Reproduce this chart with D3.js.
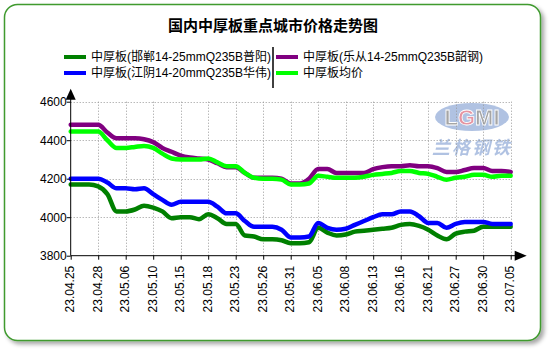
<!DOCTYPE html>
<html>
<head>
<meta charset="utf-8">
<script src="https://cdn.jsdelivr.net/npm/d3@7"></script>
<style>
  html, body { margin: 0; padding: 0; background: #fff; }
  svg { display: block; }
  .cn { font-family: "Noto Sans CJK SC", "Liberation Sans", sans-serif; }
  .mix { font-family: "Liberation Sans", "Noto Sans CJK SC", sans-serif; }
  .num { font-family: "Liberation Sans", Arial, sans-serif; }
</style>
</head>
<body>
<svg id="chart" width="550" height="350"></svg>
<script>
// Trading-day index runs 0..48; a date label every third day.
const dateLabels = ["23.04.25","23.04.28","23.05.06","23.05.10","23.05.15","23.05.18","23.05.23",
  "23.05.26","23.05.31","23.06.05","23.06.08","23.06.13","23.06.16","23.06.21","23.06.27",
  "23.06.30","23.07.05"];
const yTicks = [3800, 4000, 4200, 4400, 4600];

const seriesNames = ["中厚板(邯郸14-25mmQ235B普阳)", "中厚板(乐从14-25mmQ235B韶钢)",
  "中厚板(江阴14-20mmQ235B华伟)", "中厚板均价"];
const seriesColors = ["#008000", "#800080", "#0000ff", "#00ff00"];

// 邯郸 普阳
const handan = [4170,4170,4170,4160,4120,4030,4030,4040,4060,4050,4030,3995,4000,4000,3990,4015,
  3995,3965,3965,3905,3900,3885,3885,3880,3865,3865,3870,3945,3920,3905,3910,3925,3930,3935,3940,
  3945,3960,3965,3955,3935,3905,3885,3915,3925,3930,3950,3950,3950,3950];
// 乐从 韶钢
const lecong = [4480,4480,4480,4480,4440,4410,4410,4410,4405,4390,4360,4340,4320,4310,4305,4300,
  4280,4260,4260,4230,4205,4205,4205,4200,4175,4175,4200,4250,4250,4230,4230,4230,4230,4250,4260,
  4265,4265,4270,4265,4265,4255,4235,4235,4245,4255,4255,4240,4240,4235];
// 江阴 华伟
const jiangyin = [4200,4200,4200,4200,4180,4150,4150,4145,4150,4120,4090,4065,4080,4080,4080,4080,
  4055,4020,4020,3980,3950,3950,3950,3935,3895,3895,3900,3970,3945,3935,3940,3960,3980,4000,4015,
  4015,4030,4030,4005,3970,3970,3945,3965,3975,3975,3975,3965,3965,3965];
// 均价
const average = [4445,4445,4445,4445,4400,4360,4360,4365,4370,4360,4330,4305,4300,4300,4300,4305,
  4285,4265,4265,4230,4205,4200,4200,4195,4170,4170,4175,4215,4210,4205,4205,4205,4210,4220,4225,
  4230,4240,4240,4230,4225,4210,4195,4205,4210,4220,4220,4210,4215,4215];

const seriesValues = [handan, lecong, jiangyin, average];

const svg = d3.select("#chart");

// drop shadow for the frame
const defs = svg.append("defs");
const f = defs.append("filter").attr("id", "shadow").attr("x", "-5%").attr("y", "-5%")
  .attr("width", "115%").attr("height", "115%");
f.append("feDropShadow").attr("dx", 3).attr("dy", 3).attr("stdDeviation", 2)
  .attr("flood-color", "#000").attr("flood-opacity", 0.35);

svg.append("rect")
  .attr("x", 4.5).attr("y", 4.5).attr("width", 536).attr("height", 336)
  .attr("rx", 13).attr("ry", 13)
  .attr("fill", "#fff").attr("stroke", "#3f9a2f").attr("stroke-width", 1.5)
  .attr("filter", "url(#shadow)");

// title
svg.append("text").attr("class", "cn")
  .attr("x", 273).attr("y", 26).attr("dy", "0.35em")
  .attr("text-anchor", "middle").attr("font-size", 15).attr("font-weight", "bold")
  .text("国内中厚板重点城市价格走势图");

// legend (two columns, split by a vertical rule)
const legendPos = [[64, 57], [276, 57], [64, 73], [276, 73]];
const legend = svg.append("g");
seriesNames.forEach((name, k) => {
  const [lx, ly] = legendPos[k];
  legend.append("line").attr("x1", lx).attr("x2", lx + 22).attr("y1", ly).attr("y2", ly)
    .attr("stroke", seriesColors[k]).attr("stroke-width", 4);
  legend.append("text").attr("class", "mix").attr("x", lx + 27).attr("y", ly).attr("dy", "0.36em")
    .attr("font-size", 12).attr("fill", "#000").text(name);
});
legend.append("line").attr("x1", 273).attr("x2", 273).attr("y1", 47).attr("y2", 88)
  .attr("stroke", "#000").attr("stroke-width", 1.5);

// watermark
const wm = svg.append("g").attr("opacity", 0.8);
wm.append("ellipse").attr("cx", 472).attr("cy", 117).attr("rx", 37).attr("ry", 14)
  .attr("fill", "#9db4dc");
wm.append("text").attr("class", "num").attr("x", 472).attr("y", 117).attr("dy", "0.36em")
  .attr("text-anchor", "middle").attr("font-size", 22).attr("font-weight", "bold")
  .attr("stroke", "#fff").attr("stroke-width", 0.8).attr("letter-spacing", 0)
  .selectAll("tspan").data(["L", "G", "M", "I"]).join("tspan")
  .attr("fill", d => d === "G" ? "#e07a8a" : "#8f8f8f").text(d => d);
wm.append("text").attr("class", "cn").attr("x", 472).attr("y", 148).attr("dy", "0.36em")
  .attr("text-anchor", "middle").attr("font-size", 18).attr("font-weight", "bold")
  .attr("font-style", "italic")
  .attr("fill", "#9db4dc").attr("letter-spacing", 2).text("兰格钢铁");

// scales
const x = d3.scaleLinear().domain([0, 48]).range([70.7, 510.7]);
const y = d3.scaleLinear().domain([3800, 4600]).range([255.7, 101.7]);
const labelIdx = dateLabels.map((d, k) => k * 3);

// dotted grid
const grid = svg.append("g").attr("stroke", "#999").attr("stroke-width", 1)
  .attr("stroke-dasharray", "1,2");
grid.selectAll(".h").data(yTicks.slice(1)).join("line")
  .attr("x1", x(0)).attr("x2", x(48))
  .attr("y1", d => Math.round(y(d)) + 0.5).attr("y2", d => Math.round(y(d)) + 0.5);
grid.selectAll(".v").data(labelIdx.slice(1)).join("line")
  .attr("x1", d => Math.round(x(d)) + 0.5).attr("x2", d => Math.round(x(d)) + 0.5)
  .attr("y1", y(4600)).attr("y2", y(3800));

// series lines
const line = d3.line().x((d, k) => x(k)).y(d => y(d)).curve(d3.curveMonotoneX);
const drawOrder = [0, 2, 1, 3];
drawOrder.forEach(k => {
  svg.append("path").datum(seriesValues[k])
    .attr("fill", "none").attr("stroke", seriesColors[k])
    .attr("stroke-width", 4.5).attr("stroke-linejoin", "round").attr("stroke-linecap", "round")
    .attr("d", line);
});

// axes
const yAxis = svg.append("g").attr("class", "num")
  .attr("transform", `translate(${x(0)},0)`)
  .call(d3.axisLeft(y).tickValues(yTicks).tickSize(4).tickPadding(0).tickFormat(d3.format("d")));
yAxis.selectAll("text").attr("font-size", 12).attr("fill", "#000").attr("font-family", "Liberation Sans, Arial, sans-serif");
yAxis.select(".domain").attr("d", `M0,${y(3800)}V${y(4600) - 6}`).attr("stroke", "#000");
yAxis.selectAll(".tick line").attr("stroke", "#000");

const xAxis = svg.append("g").attr("class", "num")
  .attr("transform", `translate(0,${y(3800)})`)
  .call(d3.axisBottom(x).tickValues(labelIdx).tickSize(4)
    .tickFormat((d, k) => dateLabels[k]));
xAxis.select(".domain").attr("d", `M${x(0)},0H${x(48) + 5}`).attr("stroke", "#000");
xAxis.selectAll(".tick line").attr("stroke", "#000");
xAxis.selectAll("text")
  .attr("font-size", 12).attr("fill", "#000").attr("font-family", "Liberation Sans, Arial, sans-serif")
  .attr("transform", "rotate(-90)")
  .attr("text-anchor", "end").attr("x", -10).attr("y", 0).attr("dy", "0.25em");

// axis arrowheads
svg.append("path")
  .attr("d", `M${x(0)},${y(4600) - 13}L${x(0) - 5},${y(4600) - 2}L${x(0) + 5},${y(4600) - 2}Z`)
  .attr("fill", "#000");
svg.append("path")
  .attr("d", `M${x(48) + 16},${y(3800)}L${x(48) + 4},${y(3800) - 5}L${x(48) + 4},${y(3800) + 5}Z`)
  .attr("fill", "#000");
</script>
</body>
</html>
